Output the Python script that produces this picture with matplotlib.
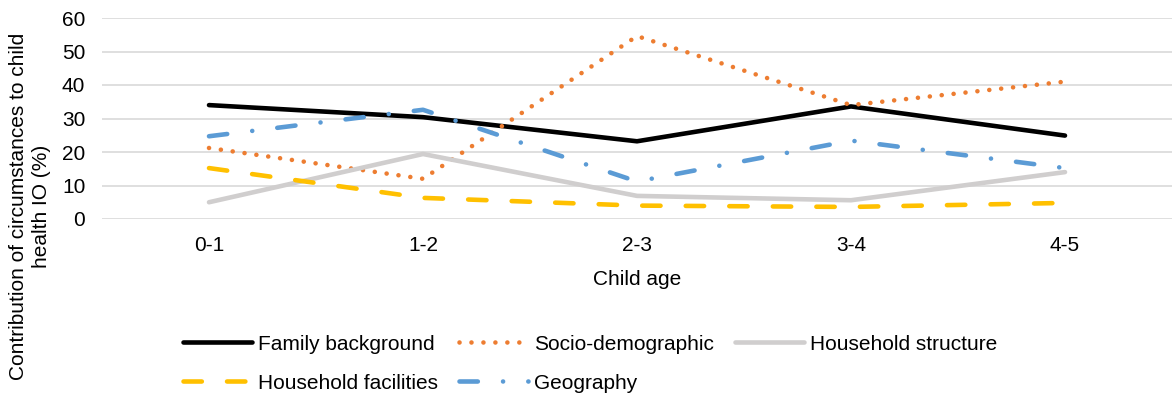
import matplotlib.pyplot as plt

plt.rcParams['font.family'] = ['Liberation Sans', 'DejaVu Sans']

# data
ages = ["0-1", "1-2", "2-3", "3-4", "4-5"]
family_background = [34.0, 30.4, 23.2, 33.6, 24.9]
socio_demographic = [21.2, 12.0, 54.6, 34.0, 41.0]
household_structure = [5.0, 19.4, 6.9, 5.6, 14.0]
household_facilities = [15.2, 6.3, 4.0, 3.6, 4.8]
geography = [24.7, 32.6, 11.2, 23.4, 15.2]

fig = plt.figure(figsize=(11.72, 3.96), dpi=100)
ax = fig.add_axes([102 / 1172, 177 / 396, 1 - 102 / 1172, 201 / 396])

x = range(len(ages))
lw = 3.3
fs = 15
h_fam, = ax.plot(x, family_background, color="black", lw=lw, solid_capstyle="round",
                 solid_joinstyle="round", label="Family background")
h_soc, = ax.plot(x, socio_demographic, color="#ED7D31", lw=lw, dashes=(0.01, 2.6),
                 dash_capstyle="round", label="Socio-demographic")
h_str, = ax.plot(x, household_structure, color="#D0CECE", lw=lw, solid_capstyle="round",
                 solid_joinstyle="round", label="Household structure")
h_fac, = ax.plot(x, household_facilities, color="#FFC000", lw=lw, dashes=(4, 5.5),
                 dash_capstyle="round", label="Household facilities")
h_geo, = ax.plot(x, geography, color="#5B9BD5", lw=lw, dashes=(4, 5.5, 0.01, 5.5),
                 dash_capstyle="round", label="Geography")

ax.set_xlim(-0.5, len(ages) - 0.5)
ax.set_ylim(0, 60)
ax.set_yticks(range(0, 61, 10))
ax.set_xticks(list(x))
ax.set_xticklabels(ages)
ax.tick_params(length=0, labelsize=fs, pad=12)
ax.grid(axis="y", color="#D9D9D9", lw=1.2)
ax.set_axisbelow(True)
for s in ax.spines.values():
    s.set_visible(False)

ax.set_xlabel("Child age", fontsize=fs, labelpad=11)
fig.text(0.0256, 0.48, "Contribution of circumstances to child\nhealth IO (%)",
         rotation=90, ha="center", va="center", fontsize=15, linespacing=1.3)

# matplotlib fills legend columns first, so reorder to get Excel's row order
handles = [h_fam, h_fac, h_soc, h_geo, h_str]
fig.legend(handles=handles, loc="upper left", bbox_to_anchor=(164 / 1172, 1 - 316 / 396),
           ncol=3, frameon=False, fontsize=fs, handlelength=3.3, handletextpad=0.3,
           columnspacing=1.02, labelspacing=0.95)

fig.savefig("out.png", dpi=100)
